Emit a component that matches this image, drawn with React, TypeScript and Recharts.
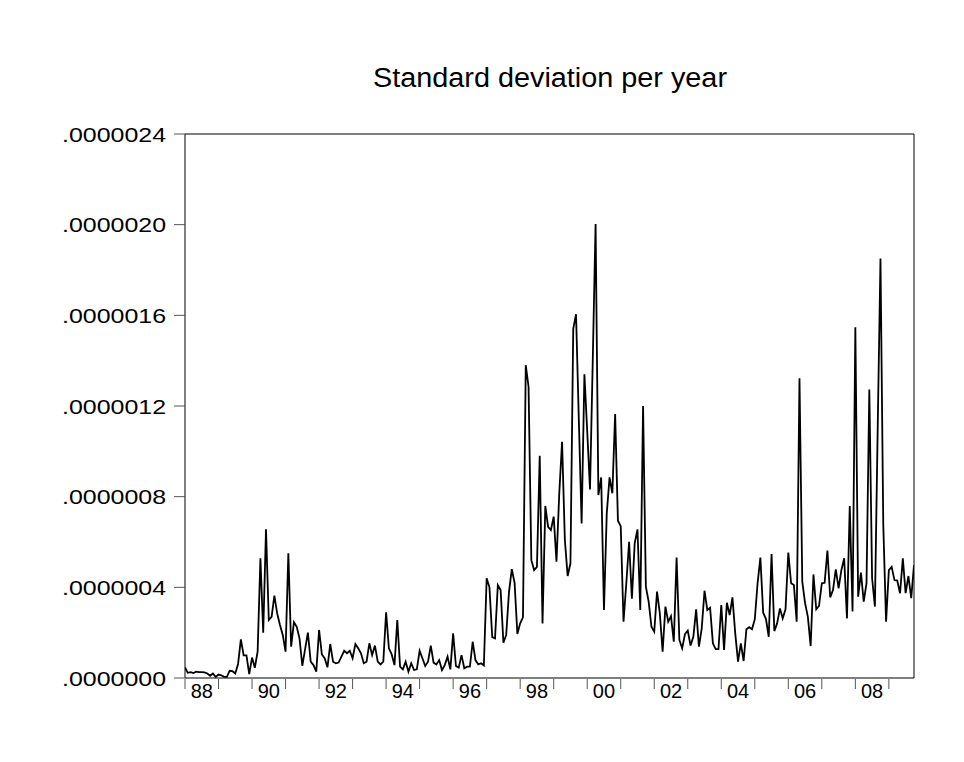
import React from 'react';
import { LineChart, Line, XAxis, YAxis, ReferenceArea } from 'recharts';

// Monthly standard deviation, 1988M01 onward, in units of 1e-7
const sdValues: number[] = [
  // 1988
  0.47, 0.23, 0.26, 0.22, 0.28, 0.26, 0.26, 0.25, 0.2, 0.1, 0.2, 0.05,
  // 1989
  0.15, 0.12, 0.05, 0.05, 0.32, 0.3, 0.2, 0.62, 1.7, 1.0, 1.0, 0.17,
  // 1990
  0.9, 0.45, 1.16, 5.28, 2.0, 6.56, 2.56, 2.7, 3.63, 2.85, 2.34, 1.9,
  // 1991
  1.16, 5.5, 1.38, 2.46, 2.26, 1.75, 0.54, 1.27, 2.0, 0.72, 0.57, 0.28,
  // 1992
  2.12, 1.04, 0.87, 0.47, 1.5, 0.72, 0.65, 0.68, 0.94, 1.2, 1.09, 1.2,
  // 1993
  0.87, 1.5, 1.31, 1.09, 0.65, 0.72, 1.53, 1.01, 1.43, 0.72, 0.6, 0.72,
  // 1994
  2.9, 1.31, 1.04, 0.57, 2.56, 0.5, 0.38, 0.72, 0.28, 0.65, 0.35, 0.38,
  // 1995
  1.2, 0.87, 0.53, 0.72, 1.43, 0.68, 0.6, 0.79, 0.35, 0.57, 0.94, 0.38,
  // 1996
  1.97, 0.53, 0.46, 1.01, 0.43, 0.5, 0.5, 1.6, 0.79, 0.6, 0.65, 0.55,
  // 1997
  4.4, 4.0, 1.8, 1.75, 4.1, 3.88, 1.56, 1.9, 3.8, 4.8, 4.2, 1.94,
  // 1998
  2.41, 2.68, 13.8, 12.85, 5.2, 4.76, 4.9, 9.8, 2.41, 7.59, 6.67, 6.53,
  // 1999
  7.12, 5.13, 8.15, 10.42, 6.09, 4.5, 5.06, 15.4, 16.05, 11.4, 6.82, 13.4,
  // 2000
  10.9, 8.32, 14.1, 20.03, 8.07, 8.85, 3.0, 7.26, 8.85, 8.15, 11.65, 6.94,
  // 2001
  6.7, 2.48, 4.18, 6.01, 3.5, 5.94, 6.56, 3.0, 12.0, 4.03, 3.37, 2.26,
  // 2002
  2.04, 3.81, 2.85, 1.16, 3.15, 2.48, 2.73, 1.6, 5.31, 1.68, 1.31, 1.94,
  // 2003
  2.09, 1.43, 1.82, 3.03, 1.38, 2.19, 3.85, 3.0, 3.1, 1.53, 1.27, 1.27,
  // 2004
  3.22, 1.24, 3.32, 2.78, 3.56, 1.97, 0.72, 1.53, 0.75, 2.15, 2.24, 2.15,
  // 2005
  2.59, 4.18, 5.31, 2.88, 2.6, 1.82, 5.47, 2.07, 2.41, 3.07, 2.63, 3.03,
  // 2006
  5.53, 4.18, 4.1, 2.48, 13.22, 4.25, 3.3, 2.7, 1.41, 4.57, 3.03, 3.18,
  // 2007
  4.18, 4.2, 5.62, 3.56, 3.88, 4.79, 3.96, 4.76, 5.28, 2.63, 7.59, 2.93,
  // 2008
  15.47, 3.59, 4.65, 3.37, 4.18, 12.73, 4.4, 3.15, 11.0, 18.51, 6.76, 2.48,
  // 2009
  4.76, 4.9, 4.32, 4.3, 3.74, 5.28, 3.74, 4.5, 3.52, 4.98,
];

// Year labels shown under every other year
const yearLabels: string[] = ['88', '90', '92', '94', '96', '98', '00', '02', '04', '06', '08'];
const firstYear = 1988;
const lastYear = 2009;

const yTicks: number[] = [0, 4e-7, 8e-7, 12e-7, 16e-7, 20e-7, 24e-7];

const data = sdValues.map((v, i) => ({ i, sd: v * 1e-7 }));
const lastIndex = sdValues.length - 1;

// tick at the start of every year, plus a label position mid-year for even years
const labelAt: Record<number, string> = {};
const xTicks: number[] = [];
for (let y = firstYear; y <= lastYear; y++) {
  const start = (y - firstYear) * 12;
  xTicks.push(start);
  const lbl = yearLabels.find((l) => l === String(y).slice(2));
  if (lbl !== undefined) {
    xTicks.push(start + 6);
    labelAt[start + 6] = lbl;
  }
}

const FONT = '"Liberation Sans", Arial, Helvetica, sans-serif';

const XTick = (props: any) => {
  const { x, y, payload } = props;
  const v = payload.value as number;
  if (v % 12 === 0) {
    return <line x1={x} y1={y + 1} x2={x} y2={y + 11} stroke="#555" strokeWidth={1} />;
  }
  const lbl = labelAt[v];
  if (!lbl) return <g />;
  return (
    <text x={x} y={y + 20} textAnchor="middle" fontFamily={FONT} fontSize={20} fill="#000">
      {lbl}
    </text>
  );
};

const fmtY = (v: number) => v.toFixed(7).replace(/^0/, '');

const YTick = (props: any) => {
  const { x, y, payload } = props;
  const s = fmtY(payload.value);
  return (
    <text
      x={x}
      y={y}
      dy="0.36em"
      textAnchor="end"
      fontFamily={FONT}
      fontSize={21}
      fill="#000"
      textLength={104}
      lengthAdjust="spacingAndGlyphs"
    >
      {s}
    </text>
  );
};

export default function App() {
  return (
    <div style={{ position: 'absolute', left: 0, top: 0, width: 964, height: 762, background: '#fff' }}>
      <svg width={964} height={120} style={{ position: 'absolute', left: 0, top: 0 }}>
        <text
          x={550}
          y={87}
          textAnchor="middle"
          fontFamily={FONT}
          fontSize={27}
          fill="#000"
          textLength={354}
          lengthAdjust="spacingAndGlyphs"
        >
          Standard deviation per year
        </text>
      </svg>
      <div style={{ position: 'absolute', left: 0, top: 0 }}>
        <LineChart width={964} height={762} data={data} margin={{ top: 134, right: 50, bottom: 44, left: 0 }}>
          <XAxis
            dataKey="i"
            type="number"
            domain={[0, lastIndex]}
            ticks={xTicks}
            interval={0}
            axisLine={false}
            tickLine={false}
            tickSize={0}
            tickMargin={0}
            tick={<XTick />}
            height={40}
            allowDataOverflow
          />
          <YAxis
            type="number"
            domain={[0, 24e-7]}
            ticks={yTicks}
            interval={0}
            axisLine={false}
            tickLine={{ stroke: '#555', strokeWidth: 1 }}
            tickSize={11}
            tickMargin={8}
            tick={<YTick />}
            width={185}
            allowDataOverflow
          />
          <ReferenceArea
            x1={0}
            x2={lastIndex}
            y1={0}
            y2={24e-7}
            stroke="#000"
            strokeWidth={1}
            fill="none"
            fillOpacity={0}
            ifOverflow="visible"
          />
          <Line
            type="linear"
            dataKey="sd"
            stroke="#000"
            strokeWidth={1.8}
            dot={false}
            activeDot={false}
            isAnimationActive={false}
          />
        </LineChart>
      </div>
    </div>
  );
}
